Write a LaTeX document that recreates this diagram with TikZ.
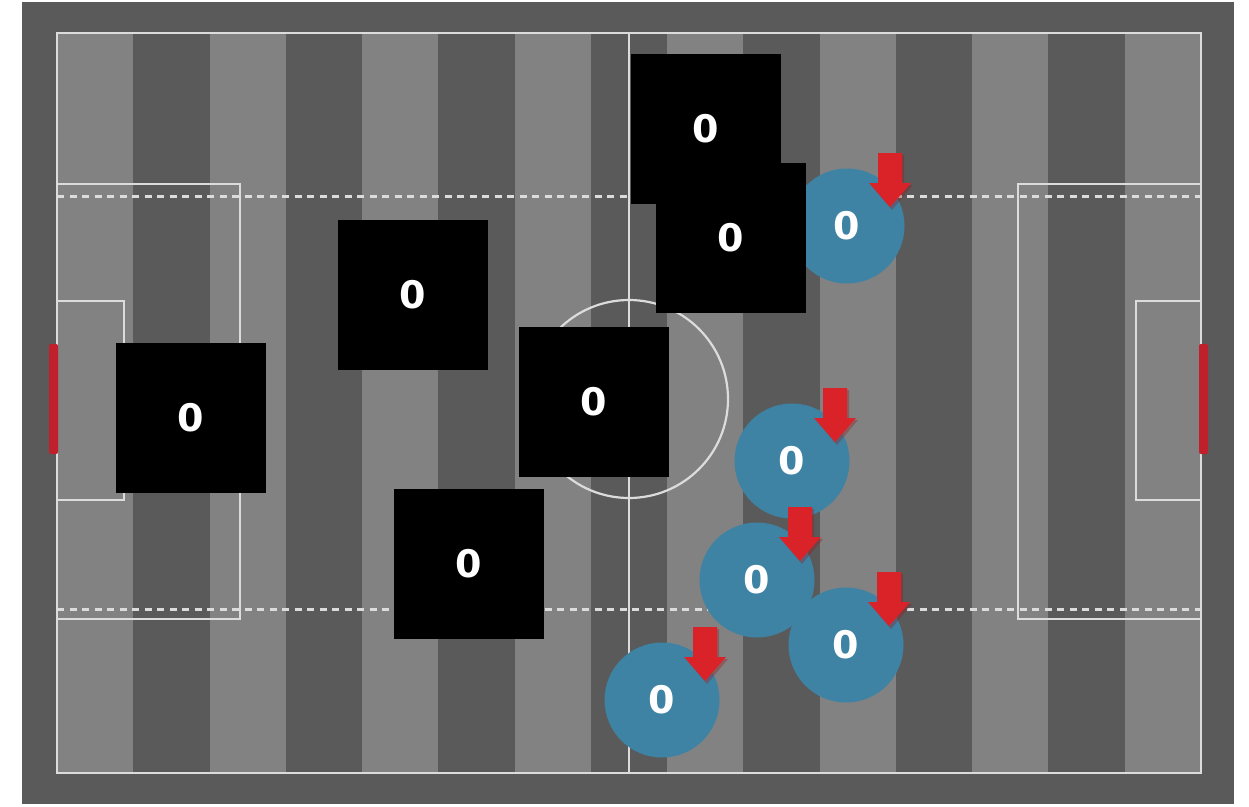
\documentclass[tikz,border=0pt]{standalone}
\usepackage{fontspec}
\newfontfamily\lblfont{DejaVu Sans}
\definecolor{borderc}{HTML}{5A5A5A}
\definecolor{lightc}{HTML}{828282}
\definecolor{darkc}{HTML}{5A5A5A}
\definecolor{linec}{HTML}{DCDCDC}
\definecolor{goalc}{HTML}{C0202C}
\definecolor{bluec}{HTML}{3E82A4}
\definecolor{arrowc}{HTML}{DA2329}
\tikzset{
  pline/.style={draw=linec, line width=2.2pt},
  dotline/.style={draw=linec, line width=3pt, dash pattern=on 7pt off 5.5pt},
  blackbox/.style={rectangle, fill=black, minimum size=150pt, inner sep=0pt, text=white, font=\lblfont\bfseries\fontsize{38}{44}\selectfont},
  bluedot/.style={circle, fill=bluec, minimum size=115pt, inner sep=0pt, text=white, font=\lblfont\bfseries\fontsize{38}{44}\selectfont},
  redarrow/.style={fill=arrowc},
}
\begin{document}
\begin{tikzpicture}[x=1pt,y=-1pt]
\useasboundingbox (0,0) rectangle (1249,806);
\fill[white] (0,0) rectangle (1249,806);
\fill[borderc] (22,2) rectangle (1234,804);
% stripes
\foreach \i in {0,...,14}{
  \pgfmathsetmacro{\xa}{57+\i*76.267}
  \pgfmathsetmacro{\xb}{57+(\i+1)*76.267}
  \pgfmathparse{mod(\i,2)==0 ? 1 : 0}
  \ifnum\pgfmathresult=1
    \fill[lightc] (\xa,33) rectangle (\xb,773);
  \else
    \fill[darkc] (\xa,33) rectangle (\xb,773);
  \fi
}
% pitch lines
\draw[pline] (57,33) rectangle (1201,773);
\draw[pline] (629,33) -- (629,773);
\draw[pline] (629,399) circle (99);
\draw[pline] (57,184) rectangle (240,619);
\draw[pline] (1018,184) rectangle (1201,619);
\draw[pline] (57,301) rectangle (124,500);
\draw[pline] (1136,301) rectangle (1201,500);
\draw[dotline] (57,196) -- (1201,196);
\draw[dotline] (57,609) -- (1201,609);
% goals
\fill[goalc, rounded corners=2pt] (49,344) rectangle (58,454);
\fill[goalc, rounded corners=2pt] (1199,344) rectangle (1208,454);
% blue players
\node[bluedot] (b1) at (847,226) {0};
\node[bluedot] (b2) at (792,461) {0};
\node[bluedot] (b3) at (757,580) {0};
\node[bluedot] (b4) at (846,645) {0};
\node[bluedot] (b5) at (662,700) {0};
% red arrows
\foreach \c in {b1,b2,b3,b4,b5}{
  \fill[arrowc!70!black, opacity=0.35, shift={(\c.center)}] (33,-71) -- (57,-71) -- (57,-41) -- (66,-41) -- (45,-16) -- (24,-41) -- (33,-41) -- cycle;
  \fill[redarrow, shift={(\c.center)}] (31,-73) -- (55,-73) -- (55,-43) -- (64,-43) -- (43,-19) -- (22,-43) -- (31,-43) -- cycle;
}
% black players
\node[blackbox] (k1) at (706,129) {0};
\node[blackbox] (k2) at (731,238) {0};
\node[blackbox] (k3) at (413,295) {0};
\node[blackbox] (k4) at (191,418) {0};
\node[blackbox] (k5) at (594,402) {0};
\node[blackbox] (k6) at (469,564) {0};
\end{tikzpicture}
\end{document}
